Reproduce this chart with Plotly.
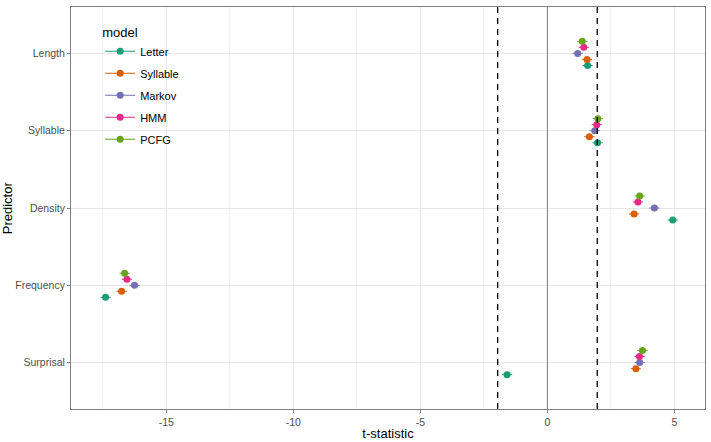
import plotly.graph_objects as go

predictors = ["Length", "Syllable", "Density", "Frequency", "Surprisal"]
models = ["Letter", "Syllable", "Markov", "HMM", "PCFG"]
colors = ["#1B9E77", "#D95F02", "#7570B3", "#E7298A", "#66A61E"]

# t-statistics per model, in order of predictors
t_letter   = [1.58, 1.97, 4.93, -17.39, -1.59]
t_syllable = [1.56, 1.65, 3.41, -16.76, 3.48]
t_markov   = [1.19, 1.86, 4.21, -16.25, 3.63]
t_hmm      = [1.43, 1.94, 3.56, -16.55, 3.62]
t_pcfg     = [1.37, 1.98, 3.63, -16.64, 3.74]
half_ci    = [0.2, 0.2, 0.2, 0.2, 0.2]

x_ticks = [-15, -10, -5, 0, 5]
x_tick_labels = ["-15", "-10", "-5", "0", "5"]

series = [t_letter, t_syllable, t_markov, t_hmm, t_pcfg]
crit = [-1.96, 1.96]

fig = go.Figure()
for m, c, vals in zip(models, colors, series):
    fig.add_trace(go.Scatter(
        x=vals, y=predictors, mode="markers", orientation="h",
        offsetgroup=m, legendgroup=m, showlegend=False, name=m,
        marker=dict(color=c, size=7),
        error_x=dict(type="data", array=half_ci, color=c, thickness=1, width=0),
    ))
for m, c in zip(models, colors):
    fig.add_trace(go.Scatter(
        x=[None], y=[None], mode="lines+markers", name=m, legendgroup=m,
        marker=dict(color=c, size=7), line=dict(color=c, width=1),
        xaxis="x2", yaxis="y2",
    ))

fig.add_vline(x=0, line=dict(color="#8a8a8a", width=1.2), layer="above")
for v in crit:
    fig.add_vline(x=v, line=dict(color="#000000", width=1.3, dash="6px,5px"))

fig.add_annotation(text="Predictor", textangle=-90, xref="paper", yref="paper",
                   x=-0.1005, y=0.5, xanchor="center", yanchor="middle", showarrow=False,
                   font=dict(size=13, color="#000000"))

fig.update_layout(
    width=711, height=442,
    margin=dict(l=71, r=6, t=7, b=33),
    paper_bgcolor="white", plot_bgcolor="white",
    font=dict(family="Liberation Sans, Arial, sans-serif", color="#4d4d4d"),
    scattermode="group", scattergap=0.61,
    showlegend=True,
    legend=dict(x=0.046, y=0.968, xanchor="left", yanchor="top",
                bgcolor="rgba(255,255,255,0)", tracegroupgap=3,
                title=dict(text="model", font=dict(size=13, color="#000000")),
                font=dict(size=11, color="#000000"), traceorder="grouped"),
    xaxis=dict(range=[-18.75, 6.2], tickvals=x_ticks, ticktext=x_tick_labels,
               automargin=False,
               showgrid=True, gridcolor="#e6e6e6", gridwidth=1,
               minor=dict(tick0=0, dtick=2.5, showgrid=True, gridcolor="#f3f3f3", gridwidth=1),
               zeroline=False, showline=True, linecolor="#7f7f7f", mirror=True, linewidth=1,
               ticks="outside", ticklen=3, tickcolor="#7f7f7f",
               tickfont=dict(size=10.5, color="#4d4d4d"),
               title=dict(text="t-statistic", font=dict(size=13, color="#000000"), standoff=2)),
    yaxis=dict(type="category", categoryorder="array", automargin=False,
               categoryarray=predictors[::-1], range=[-0.6, 4.6],
               showgrid=True, gridcolor="#e6e6e6", gridwidth=1,
               zeroline=False, showline=True, linecolor="#7f7f7f", mirror=True, linewidth=1,
               ticks="outside", ticklen=3, tickcolor="#7f7f7f",
               tickfont=dict(size=10.5, color="#4d4d4d")),
    xaxis2=dict(overlaying="x", visible=False, range=[0, 1]),
    yaxis2=dict(overlaying="y", visible=False, range=[0, 1]),
)

fig.write_html("out.html")
